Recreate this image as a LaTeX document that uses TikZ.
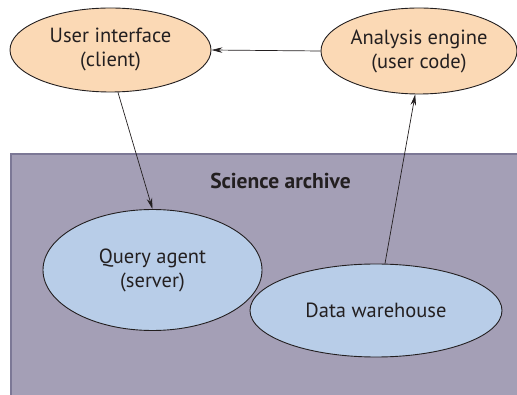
\documentclass[tikz,border=0pt]{standalone}
\usepackage{fontspec}
\setmainfont{PT Sans}
\usetikzlibrary{arrows.meta,shapes.geometric}
\definecolor{peach}{HTML}{FBD9B5}
\definecolor{skyfill}{HTML}{B8CDE8}
\definecolor{archivefill}{HTML}{A49FB6}
\definecolor{archiveedge}{HTML}{7C7896}
\definecolor{inkline}{HTML}{231F20}
\tikzset{
  client/.style={ellipse, draw=inkline, line width=0.9pt, fill=peach,
    minimum width=#1, align=center, font=\fontsize{20.5}{24}\selectfont, text=inkline},
  server/.style={ellipse, draw=inkline, line width=0.9pt, fill=skyfill,
    minimum width=#1, align=center, font=\fontsize{20.5}{24}\selectfont, text=inkline},
  link/.style={draw=inkline, line width=0.7pt, -{Stealth[length=11pt,width=5.5pt]}},
}
\begin{document}
\begin{tikzpicture}[x=1pt,y=-1pt]
  \useasboundingbox (0,0) rectangle (517,395);
  % archive region
  \fill[archivefill] (11,154) rectangle (517,395);
  \draw[archiveedge, line width=1.2pt] (11,395) -- (11,154) -- (517,154);
  \node[font=\bfseries\fontsize{21.5}{24}\selectfont, text=inkline] (archive) at (280.5,181) {Science archive};
  % ellipses
  \node[client=201pt, minimum height=84pt, inner sep=0pt] (ui) at (110.5,50) {User interface\\(client)};
  \node[client=196pt, minimum height=86pt, inner sep=0pt] (ae) at (419,51) {Analysis engine\\(user code)};
  \node[server=219pt, minimum height=121pt, inner sep=0pt] (qa) at (152.5,270) {Query agent\\(server)};
  \node[server=252pt, minimum height=93pt, inner sep=0pt] (dw) at (376,310.5) {Data warehouse};
  % connectors
  \draw[link] (ae.west) -- (ui.east);
  \draw[link] (ui.-80) -- (qa.north);
  \path (dw.north) ++(9,0) coordinate (dwtop);
  \draw[link] (dwtop) -- (ae.-95);
\end{tikzpicture}
\end{document}
